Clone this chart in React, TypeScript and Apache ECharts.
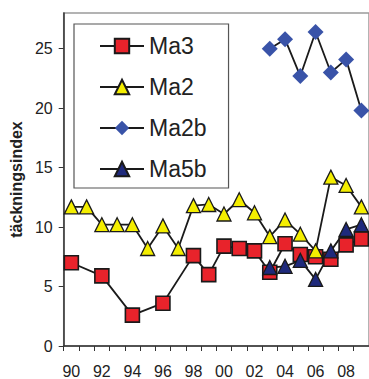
import React, { useEffect, useRef } from "react";
import * as echarts from "echarts";

// Survey years 1990–2009, shown as two-digit labels
const years = [
  "90", "91", "92", "93", "94", "95", "96", "97", "98", "99",
  "00", "01", "02", "03", "04", "05", "06", "07", "08", "09",
];

const ma3 = [7.0, null, 5.9, null, 2.6, null, 3.6, null, 7.6, 6.0, 8.4, 8.2, 8.0, 6.2, 8.6, 7.7, 7.5, 7.3, 8.5, 9.0];
const ma2 = [11.7, 11.7, 10.2, 10.2, 10.2, 8.2, 10.1, 8.2, 11.8, 11.9, 11.1, 12.3, 11.2, 9.2, 10.6, 9.4, 8.0, 14.2, 13.5, 11.7];
const ma2b = [null, null, null, null, null, null, null, null, null, null, null, null, null, 25.0, 25.8, 22.7, 26.4, 23.0, 24.1, 19.8];
const ma5b = [null, null, null, null, null, null, null, null, null, null, null, null, null, 6.6, 6.7, 7.2, 5.6, 8.0, 9.8, 10.2];

const yTicks = [0, 5, 10, 15, 20, 25];

const FONT = "'Liberation Sans', Arial, sans-serif";

export default function App() {
  const ref = useRef<HTMLDivElement>(null);

  useEffect(() => {
    if (!ref.current) return;
    const chart = echarts.init(ref.current, undefined, { renderer: "svg" });

    const lineStyle = { color: "#1a1a1a", width: 1.8 };
    const common = { type: "line", connectNulls: true, showAllSymbol: true, lineStyle };

    chart.setOption({
      animation: false,
      backgroundColor: "#ffffff",
      textStyle: { fontFamily: FONT },
      grid: {
        left: 56,
        top: 13,
        width: 314,
        height: 334,
        show: true,
        borderColor: "#9a9a9a",
        borderWidth: 1.5,
        backgroundColor: "transparent",
      },
      legend: {
        orient: "vertical",
        left: 74,
        top: 24,
        padding: [10, 22, 7, 25],
        itemWidth: 44,
        itemHeight: 18,
        itemGap: 17,
        borderColor: "#555555",
        borderWidth: 1.2,
        backgroundColor: "#ffffff",
        textStyle: { fontFamily: FONT, fontSize: 23, color: "#222222", lineHeight: 24 },
        data: ["Ma3", "Ma2", "Ma2b", "Ma5b"],
      },
      xAxis: {
        type: "category",
        data: years,
        boundaryGap: true,
        axisLine: { lineStyle: { color: "#333333", width: 1.5 } },
        axisTick: { show: true, interval: 0, length: 5, lineStyle: { color: "#333333" } },
        axisLabel: { interval: 1, fontSize: 16, color: "#222222", margin: 17, fontFamily: FONT },
        splitLine: { show: false },
      },
      yAxis: {
        type: "value",
        min: 0,
        max: 28,
        name: "täckningsindex",
        nameLocation: "middle",
        nameGap: 33,
        nameTextStyle: { fontSize: 16, fontWeight: "bold", color: "#222222", fontFamily: FONT },
        axisLine: { show: true, lineStyle: { color: "#333333", width: 1.5 } },
        axisTick: { show: true, length: 5, customValues: yTicks, lineStyle: { color: "#333333" } },
        axisLabel: { fontSize: 16, color: "#222222", margin: 11, customValues: yTicks, fontFamily: FONT },
        splitLine: { show: false },
      },
      series: [
        {
          ...common,
          name: "Ma3",
          data: ma3,
          symbol: "rect",
          symbolSize: 14,
          itemStyle: { color: "#e8232b", borderColor: "#1a1a1a", borderWidth: 1.6 },
        },
        {
          ...common,
          name: "Ma2",
          data: ma2,
          symbol: "triangle",
          symbolSize: 14,
          itemStyle: { color: "#f4ee00", borderColor: "#1a1a1a", borderWidth: 1.3 },
        },
        {
          ...common,
          name: "Ma2b",
          data: ma2b,
          symbol: "diamond",
          symbolSize: 16,
          itemStyle: { color: "#3953a8", borderWidth: 0 },
        },
        {
          ...common,
          name: "Ma5b",
          data: ma5b,
          symbol: "triangle",
          symbolSize: 14,
          itemStyle: { color: "#1f2a7c", borderColor: "#1a1a1a", borderWidth: 1.3 },
        },
      ],
    });

    return () => chart.dispose();
  }, []);

  return (
    <div
      ref={ref}
      style={{ position: "fixed", left: 0, top: 0, width: 369, height: 379 }}
    />
  );
}
